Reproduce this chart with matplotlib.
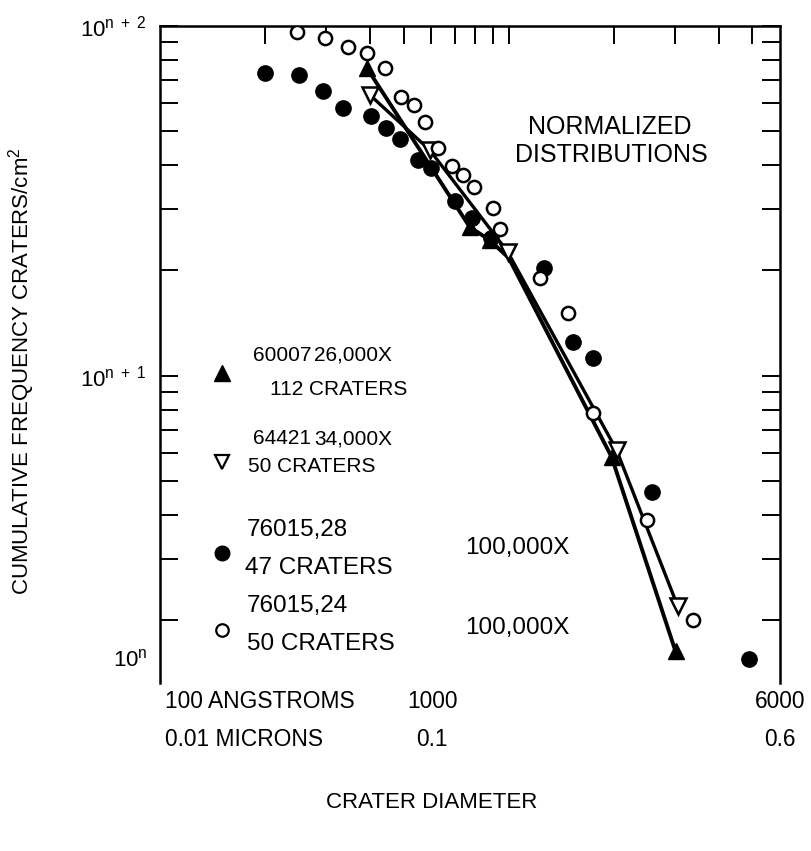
import matplotlib
matplotlib.use('Agg')
import matplotlib.pyplot as plt
from matplotlib.transforms import blended_transform_factory

plt.rcParams['font.family'] = ['Liberation Sans', 'DejaVu Sans']
plt.rcParams['mathtext.fontset'] = 'custom'
plt.rcParams['mathtext.rm'] = 'Liberation Sans'
plt.rcParams['mathtext.it'] = 'Liberation Sans'
plt.rcParams['mathtext.bf'] = 'Liberation Sans:bold'

# crater diameter (angstroms) vs cumulative frequency (units of 10^n craters/cm^2)
d_60007 = [392, 773, 882, 1000, 1973, 3010]
f_60007 = [75.7, 26.6, 24.4, 21.7, 5.86, 1.63]

d_64421 = [400, 594, 993, 2039, 3050]
f_64421 = [63.4, 44.1, 22.6, 6.13, 2.20]

d_76015_28 = [200, 250, 293, 334, 402, 444, 487, 549, 598, 700, 783, 888,
              1260, 1526, 1741, 2569, 4903]
f_76015_28 = [73.3, 72.3, 65.1, 58.2, 55.2, 51.0, 47.5, 41.3, 39.2, 31.6, 28.2, 24.7,
              20.3, 12.5, 11.2, 4.65, 1.55]

d_76015_24 = [247, 297, 346, 392, 441, 490, 534, 574, 626, 687, 738, 794, 900, 942,
              1227, 1476, 1741, 2486, 3367]
f_76015_24 = [95.9, 92.2, 86.9, 83.6, 75.7, 62.6, 59.3, 53.1, 44.7, 39.7, 37.4, 34.6, 30.1, 26.2,
              19.0, 15.1, 7.82, 3.87, 2.00]

samples = ['60007', '64421', '76015,28', '76015,24']
magnifications = ['26,000X', '34,000X', '100,000X', '100,000X']
crater_counts = ['112 CRATERS', '50 CRATERS', '47 CRATERS', '50 CRATERS']

x_minor = [200, 300, 400, 500, 600, 700, 800, 900, 2000, 3000, 4000, 5000]
y_minor = [2, 3, 4, 5, 6, 7, 8, 9, 20, 30, 40, 50, 60, 70, 80, 90]

W, H = 812, 851
FS = 16


def fx(px):
    return px / W


def fy(py):
    return 1 - py / H


fig = plt.figure(figsize=(W / 100, H / 100), dpi=100)
ax = fig.add_axes([fx(160), fy(683), fx(780) - fx(160), fy(25.7) - fy(683)])
ax.set_xscale('log')
ax.set_yscale('log')
ax.set_xlim(100, 6000)
ax.set_ylim(1.324, 100)

# curves + markers
ax.plot(d_60007, f_60007, color='black', lw=2.8, zorder=4)
ax.plot([d_60007[i] for i in (0, 1, 2, 4, 5)], [f_60007[i] for i in (0, 1, 2, 4, 5)],
        ls='None', marker='^', ms=12, mfc='black', mec='black', zorder=4)
ax.plot(d_64421, f_64421, color='black', lw=2.4, marker='v', ms=11,
        mfc='white', mec='black', mew=1.8, zorder=4)
ax.plot(d_76015_28, f_76015_28, ls='None', marker='o', ms=11,
        mfc='black', mec='black', zorder=5)
ax.plot(d_76015_24, f_76015_24, ls='None', marker='o', ms=9.5,
        mfc='white', mec='black', mew=1.8, zorder=5)

# spines / ticks
for s in ['left', 'top', 'right']:
    ax.spines[s].set_linewidth(1.8)
ax.spines['bottom'].set_visible(False)

ax.xaxis.set_ticks_position('top')
ax.set_xticks([1000])
ax.set_xticks(x_minor, minor=True)
ax.tick_params(axis='x', which='both', direction='in', length=13, width=1.4,
               labeltop=False, labelbottom=False)

ax.yaxis.set_ticks_position('both')
ax.set_yticks([10, 100])
ax.set_yticks(y_minor, minor=True)
ax.set_yticklabels([r'10$^{\mathrm{n\ +\ 1}}$', r'10$^{\mathrm{n\ +\ 2}}$'])
ax.yaxis.set_minor_formatter(plt.NullFormatter())
ax.tick_params(axis='y', which='both', direction='in', length=13, width=1.4,
               labelsize=FS, pad=10)
fig.text(fx(148), fy(660), r'10$^{\mathrm{n}}$', ha='right', va='center', fontsize=FS)

# y label
fig.text(fx(22), fy(371), r'CUMULATIVE FREQUENCY CRATERS/cm$^2$', rotation=90,
         ha='center', va='center', fontsize=FS)

# x-axis scale annotations
tr = blended_transform_factory(ax.transAxes, fig.transFigure)
ax.text(0.008, fy(701), '100 ANGSTROMS', transform=tr, ha='left', va='center', fontsize=16.4)
ax.text(0.439, fy(701), '1000', transform=tr, ha='center', va='center', fontsize=16.4)
ax.text(1.0, fy(701), '6000', transform=tr, ha='center', va='center', fontsize=16.4)
ax.text(0.008, fy(740), '0.01 MICRONS', transform=tr, ha='left', va='center', fontsize=16.4)
ax.text(0.439, fy(740), '0.1', transform=tr, ha='center', va='center', fontsize=16.4)
ax.text(1.0, fy(740), '0.6', transform=tr, ha='center', va='center', fontsize=16.4)
ax.text(0.439, fy(802), 'CRATER DIAMETER', transform=tr, ha='center', va='center', fontsize=FS)

fig.text(fx(610), fy(127), 'NORMALIZED', ha='center', va='center', fontsize=18)
fig.text(fx(611), fy(155), 'DISTRIBUTIONS', ha='center', va='center', fontsize=18)

# key
key_style = [
    dict(marker='^', ms=12, mfc='black', mec='black'),
    dict(marker='v', ms=10, mfc='white', mec='black', mew=1.6),
    dict(marker='o', ms=10.5, mfc='black', mec='black'),
    dict(marker='o', ms=9, mfc='white', mec='black', mew=1.6),
]
key_size = [15, 15, 17.5, 17.5]
key_marker_y = [373, 462, 553, 630]
key_name_pos = [(253, 355), (253, 439), (247, 530), (247, 606)]
key_mag_pos = [(392, 355), (392, 439), (570, 548), (570, 628)]
key_count_pos = [(270, 389), (248, 466), (245, 568), (247, 644)]
for i in range(4):
    fig.add_artist(plt.Line2D([fx(222)], [fy(key_marker_y[i])], ls='None',
                              transform=fig.transFigure, **key_style[i]))
    fig.text(fx(key_name_pos[i][0]), fy(key_name_pos[i][1]), samples[i],
             ha='left', va='center', fontsize=key_size[i])
    fig.text(fx(key_mag_pos[i][0]), fy(key_mag_pos[i][1]), magnifications[i],
             ha='right', va='center', fontsize=key_size[i])
    fig.text(fx(key_count_pos[i][0]), fy(key_count_pos[i][1]), crater_counts[i],
             ha='left', va='center', fontsize=key_size[i])

fig.savefig('out.png', dpi=100)
